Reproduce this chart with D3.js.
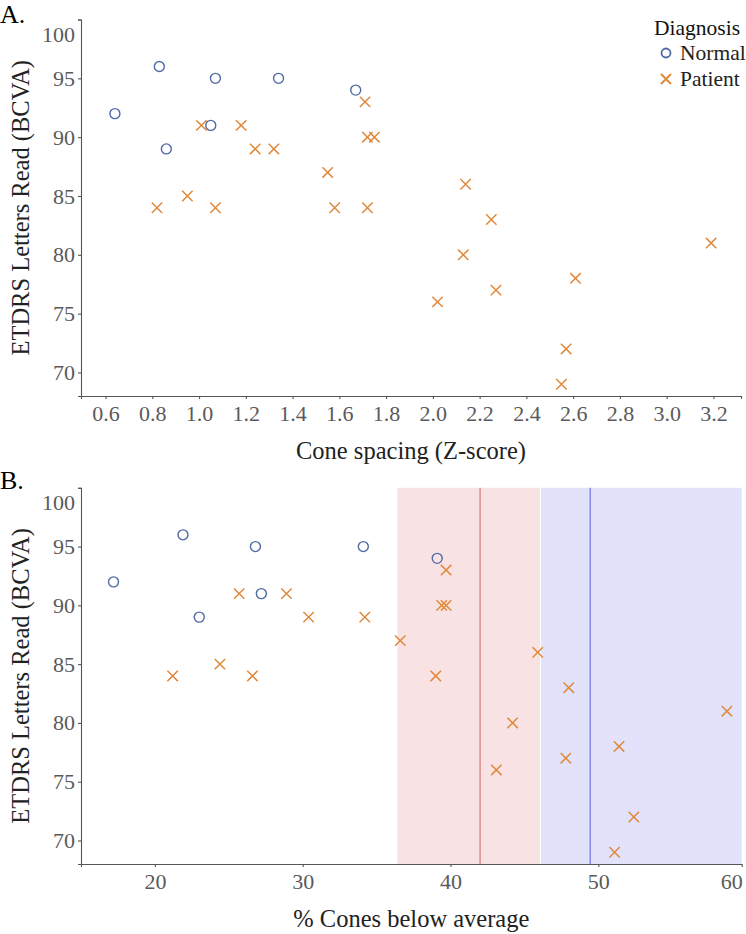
<!DOCTYPE html>
<html>
<head>
<meta charset="utf-8">
<script src="https://cdn.jsdelivr.net/npm/d3@7"></script>
<style>
  html, body { margin: 0; padding: 0; background: #fff; }
  svg { display: block; }
  text { font-family: "Liberation Serif", "Times New Roman", "DejaVu Serif", serif; }
</style>
</head>
<body>
<svg id="chart" width="746" height="934"></svg>
<script>
// ---------- DATA ----------
// Panel A: cone spacing (Z-score) vs BCVA
const normalSpacing = [0.64, 0.83, 0.86, 1.05, 1.07, 1.34, 1.67];
const normalBcvaA   = [92, 96, 89, 91, 95, 95, 94];
const patientSpacing = [0.82, 0.95, 1.01, 1.07, 1.18, 1.24, 1.32, 1.55, 1.58, 1.71, 1.72, 1.75, 1.72, 2.14, 2.25, 2.13, 2.27, 2.02, 2.61, 2.57, 2.55, 3.19];
const patientBcvaA   = [84, 85, 91, 84, 91, 89, 89, 87, 84, 93, 90, 90, 84, 86, 83, 80, 77, 76, 78, 72, 69, 81];

// Panel B: % cones below average vs BCVA
const normalPct  = [17.2, 21.9, 23.0, 26.8, 27.2, 34.1, 39.1];
const normalBcvaB = [92, 96, 89, 95, 91, 95, 94];
const patientPct  = [21.2, 24.4, 25.7, 26.6, 28.9, 30.4, 34.2, 36.6, 39.0, 39.7, 39.4, 39.7, 45.9, 48.0, 44.2, 43.1, 47.8, 51.4, 58.7, 52.4, 51.1];
const patientBcvaB = [84, 85, 91, 84, 91, 89, 89, 87, 84, 93, 90, 90, 86, 83, 80, 76, 77, 78, 81, 72, 69];

// Shaded bands and reference lines in panel B (x values)
const bandRed  = [36.4, 46.05];
const bandBlue = [46.05, 59.7];
const lineRed  = 42.0;
const lineBlue = 49.45;

const yTicks = [70, 75, 80, 85, 90, 95, 100];
const xTicksA = [0.6, 0.8, 1.0, 1.2, 1.4, 1.6, 1.8, 2.0, 2.2, 2.4, 2.6, 2.8, 3.0, 3.2];
const xTicksB = [20, 30, 40, 50, 60];
const legendLabels = ["Normal", "Patient"];

// ---------- STYLE ----------
const BLUE = "#4f6aa6";
const ORANGE = "#e0893b";
const AXIS = "#555";
const TICKTXT = "#5a5a5a";
const FONT = '"Liberation Serif", "Times New Roman", "DejaVu Serif", serif';

const svg = d3.select("#chart");

function drawPanel(cfg) {
  const g = svg.append("g");
  const x = d3.scaleLinear().domain(cfg.xDomain).range(cfg.xRange);
  const y = d3.scaleLinear().domain([68, 100]).range(cfg.yRange);

  if (cfg.bands) cfg.bands(g, x, y);

  // axes
  const yAxis = g.append("g")
    .attr("transform", `translate(${cfg.xRange[0]},0)`)
    .call(d3.axisLeft(y).tickValues(yTicks).tickSize(3).tickPadding(3));
  const xAxis = g.append("g")
    .attr("transform", `translate(0,${cfg.yRange[0]})`)
    .call(d3.axisBottom(x).tickValues(cfg.xTicks).tickFormat(cfg.xFormat).tickSize(3).tickPadding(6));

  [yAxis, xAxis].forEach(a => {
    a.attr("font-family", null).attr("font-size", null);
    a.select(".domain").attr("stroke", AXIS).attr("stroke-width", 1.1);
    a.selectAll(".tick line").attr("stroke", AXIS).attr("stroke-width", 1.1);
    a.selectAll(".tick text").attr("fill", TICKTXT).style("font-size", "22px")
      .style("font-family", FONT);
  });
  // top label "100" sits lower than its tick in the reference
  yAxis.selectAll(".tick").filter(d => d === 100).select("text").attr("dy", "1.0em");
  if (cfg.afterX) cfg.afterX(xAxis, x);

  // y title
  g.append("text")
    .attr("transform", `translate(29,${(cfg.yRange[0] + cfg.yRange[1]) / 2}) rotate(-90)`)
    .attr("text-anchor", "middle")
    .attr("fill", "#222")
    .style("font-size", "24.5px")
    .text("ETDRS Letters Read (BCVA)");

  // x title
  g.append("text")
    .attr("x", (cfg.xRange[0] + cfg.xRange[1]) / 2)
    .attr("y", cfg.yRange[0] + 63)
    .attr("text-anchor", "middle")
    .attr("fill", "#222")
    .style("font-size", "24.5px")
    .text(cfg.xTitle);

  // panel label
  g.append("text")
    .attr("x", 0).attr("y", cfg.panelY)
    .attr("fill", "#000")
    .style("font-size", "26px")
    .text(cfg.panel);

  // normal circles
  g.append("g").selectAll("circle")
    .data(cfg.nx.map((v, i) => [v, cfg.ny[i]]))
    .join("circle")
    .attr("cx", d => x(d[0])).attr("cy", d => y(d[1]))
    .attr("r", 5)
    .attr("fill", "none").attr("stroke", BLUE).attr("stroke-width", 1.4);

  // patient crosses
  const s = 5.2;
  g.append("g").selectAll("path")
    .data(cfg.px.map((v, i) => [v, cfg.py[i]]))
    .join("path")
    .attr("d", d => {
      const cx = x(d[0]), cy = y(d[1]);
      return `M${cx - s},${cy - s}L${cx + s},${cy + s}M${cx - s},${cy + s}L${cx + s},${cy - s}`;
    })
    .attr("stroke", ORANGE).attr("stroke-width", 1.5).attr("fill", "none");
}

drawPanel({
  panel: "A.", panelY: 23,
  xDomain: [0.495, 3.318], xRange: [81, 741], yRange: [396, 19.5],
  xTicks: xTicksA, xFormat: d3.format(".1f"),
  xTitle: "Cone spacing (Z-score)",
  nx: normalSpacing, ny: normalBcvaA, px: patientSpacing, py: patientBcvaA
});

drawPanel({
  panel: "B.", panelY: 489,
  xDomain: [15, 59.7], xRange: [81, 741.7], yRange: [864, 487.8],
  xTicks: xTicksB, xFormat: d3.format("d"),
  xTitle: "% Cones below average",
  bands: (g, x, y) => {
    const top = y(100), bot = y(68);
    g.append("rect").attr("x", x(bandRed[0])).attr("y", top)
      .attr("width", x(bandRed[1]) - x(bandRed[0])).attr("height", bot - top)
      .attr("fill", "#f8e2e3");
    g.append("rect").attr("x", x(bandBlue[0]) + 1).attr("y", top)
      .attr("width", x(bandBlue[1]) - x(bandBlue[0]) - 1).attr("height", bot - top)
      .attr("fill", "#e2e2fa");
    g.append("line").attr("x1", x(lineRed)).attr("x2", x(lineRed)).attr("y1", top).attr("y2", bot)
      .attr("stroke", "#d9797c").attr("stroke-width", 1.2);
    g.append("line").attr("x1", x(lineBlue)).attr("x2", x(lineBlue)).attr("y1", top).attr("y2", bot)
      .attr("stroke", "#7474ea").attr("stroke-width", 1.2);
  },
  afterX: (ax, x) => {
    const t60 = ax.selectAll(".tick").filter(d => d === 60);
    t60.select("line").remove();
    t60.select("text").attr("text-anchor", "end").attr("x", -4);
  },
  nx: normalPct, ny: normalBcvaB, px: patientPct, py: patientBcvaB
});

// ---------- LEGEND ----------
const leg = svg.append("g").attr("transform", "translate(654,0)");
leg.append("text").attr("x", 0).attr("y", 35).attr("fill", "#111")
  .style("font-size", "21.5px").text("Diagnosis");
leg.selectAll("g.item").data(legendLabels).join("g").attr("class", "item")
  .attr("transform", (d, i) => `translate(0,${53 + i * 26})`)
  .each(function (d, i) {
    const it = d3.select(this);
    if (i === 0) {
      it.append("circle").attr("cx", 12).attr("cy", 0).attr("r", 4.5)
        .attr("fill", "none").attr("stroke", BLUE).attr("stroke-width", 1.8);
    } else {
      const s = 5;
      it.append("path").attr("d", `M${12 - s},${-s}L${12 + s},${s}M${12 - s},${s}L${12 + s},${-s}`)
        .attr("stroke", ORANGE).attr("stroke-width", 2);
    }
    it.append("text").attr("x", 26).attr("y", 7).attr("fill", "#222")
      .style("font-size", "21.5px").text(d);
  });
</script>
</body>
</html>
